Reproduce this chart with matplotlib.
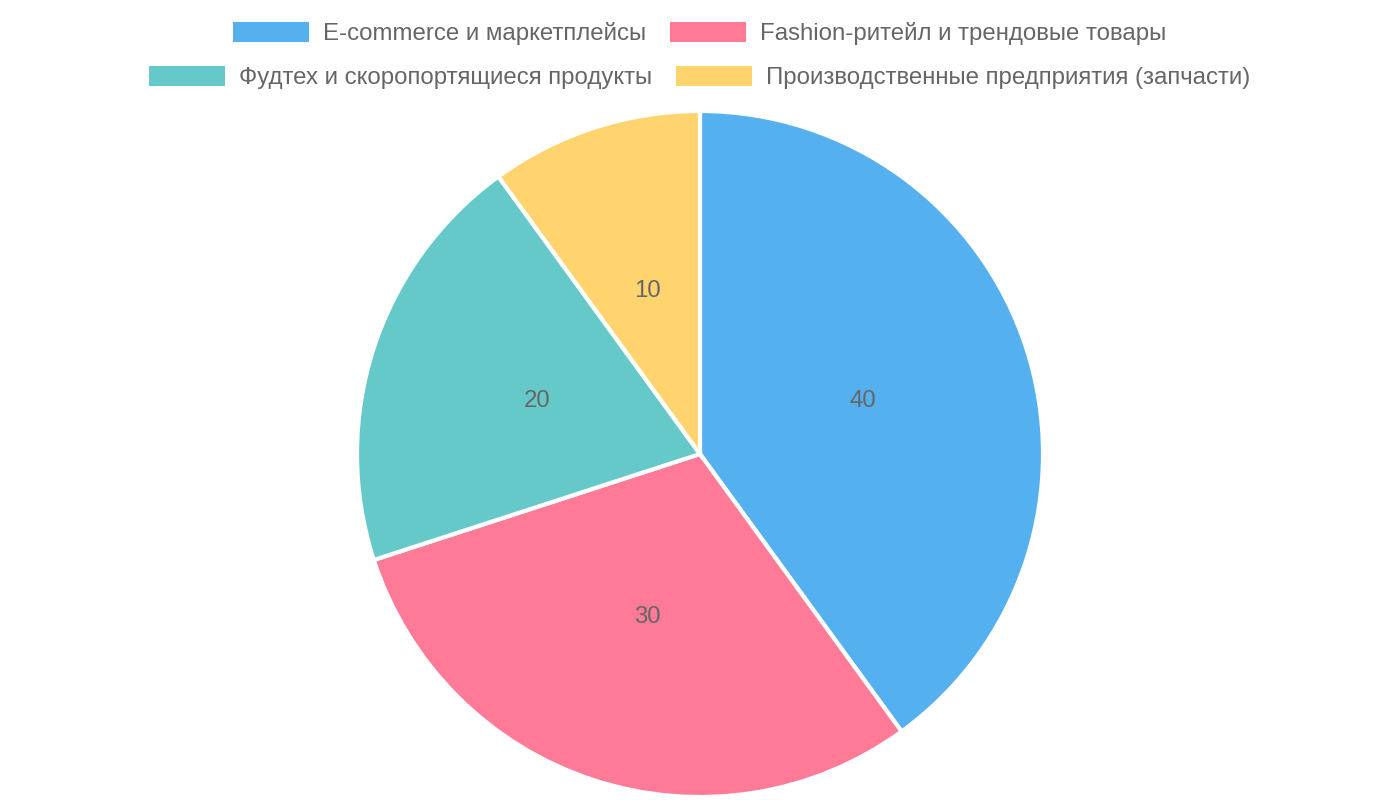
import matplotlib.pyplot as plt
from matplotlib.patches import Rectangle

plt.rcParams['font.family'] = ['Liberation Sans', 'DejaVu Sans']

categories = ['E-commerce и маркетплейсы', 'Fashion-ритейл и трендовые товары',
              'Фудтех и скоропортящиеся продукты', 'Производственные предприятия (запчасти)']
values = [40, 30, 20, 10]
colors = ['#54B0EE', '#FF7A96', '#66C9C9', '#FFD46F']
text_color = '#666666'

W, H = 1400, 800
fig = plt.figure(figsize=(W / 100, H / 100), dpi=100)

# pie: centre (700, 454) px from top, radius 343 px
cx, cy, R = 700, 454, 343
ax = fig.add_axes([(cx - R) / W, (H - cy - R) / H, 2 * R / W, 2 * R / H])
total = sum(values)
ax.pie(values, colors=colors, startangle=90, counterclock=False,
       autopct=lambda p: f"{p * total / 100:.0f}", pctdistance=0.5,
       wedgeprops=dict(edgecolor='white', linewidth=3),
       textprops=dict(color=text_color, fontsize=17.3))
ax.set_xlim(-1, 1)
ax.set_ylim(-1, 1)
ax.axis('off')

# legend drawn by hand, two centred rows like the original
rows = [[0, 1], [2, 3]]
row_y = [32, 76]
box_w, box_h, gap_txt, gap_item = 76, 20, 14, 24
renderer = fig.canvas.get_renderer()
for row, y in zip(rows, row_y):
    texts = []
    widths = []
    for i in row:
        t = fig.text(0, 0, categories[i], fontsize=17.3, color=text_color,
                     va='baseline', ha='left')
        texts.append(t)
        widths.append(t.get_window_extent(renderer).width)
    total_w = sum(box_w + gap_txt + w for w in widths) + gap_item * (len(row) - 1)
    x = W / 2 - total_w / 2
    for i, t, w in zip(row, texts, widths):
        fig.patches.append(Rectangle((x / W, (H - y - box_h / 2) / H), box_w / W, box_h / H,
                                     transform=fig.transFigure, facecolor=colors[i],
                                     edgecolor='none'))
        t.set_position(((x + box_w + gap_txt) / W, (H - y - 8) / H))
        x += box_w + gap_txt + w + gap_item

fig.savefig('out.png', dpi=100)
